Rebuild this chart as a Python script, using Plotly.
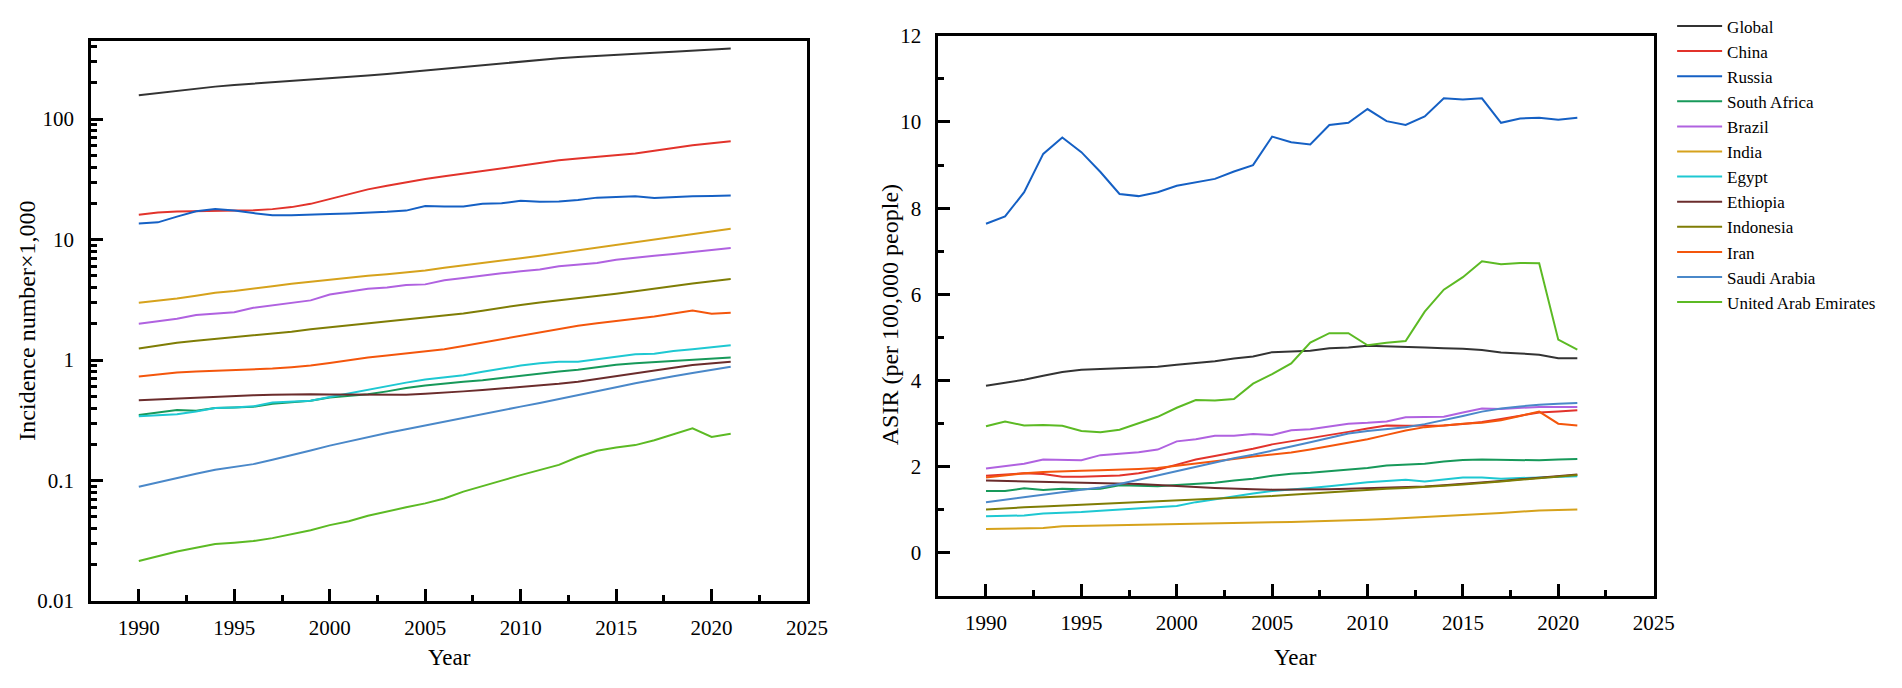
import plotly.graph_objects as go

years = list(range(1990, 2022))

names = ["Global", "China", "Russia", "South Africa", "Brazil", "India", "Egypt",
         "Ethiopia", "Indonesia", "Iran", "Saudi Arabia", "United Arab Emirates"]
colors = ["#333333", "#e2332b", "#1560c4", "#17995a", "#b062e0", "#d6a21c", "#1ec8d2",
          "#6b2c2c", "#7f7d05", "#f4560c", "#4a88c9", "#5cba24"]

# Incidence number x 1,000 (left panel, log scale)
inc_global = [158, 165, 172, 179, 186, 192, 197, 201, 206, 211, 216, 223, 230, 237, 245, 255,
              264, 272, 282, 292, 302, 312, 320, 327, 335, 343, 350, 356, 362, 370, 375, 385]
inc_china = [16.1, 16.8, 17.1, 17.2, 17.2, 17.3, 17.5, 17.9, 18.6, 19.8, 21.7, 23.8, 26.1, 28.0, 30.0, 31.8,
             33.5, 35.2, 37.0, 39.0, 41.0, 43.5, 45.5, 47.2, 48.7, 50.0, 51.8, 54.5, 57.5, 60.8, 63.0, 65.5]
inc_russia = [13.6, 13.9, 15.5, 17.2, 17.9, 17.4, 16.6, 15.9, 15.9, 16.0, 16.3, 16.5, 16.7, 17.0, 17.4, 19.0,
              18.8, 18.8, 19.8, 20.0, 21.0, 20.6, 20.7, 21.3, 22.3, 22.5, 22.9, 22.1, 22.6, 22.9, 23.0, 23.2]
inc_safrica = [0.35, 0.365, 0.386, 0.38, 0.40, 0.405, 0.41, 0.435, 0.45, 0.46, 0.49, 0.505, 0.52, 0.55, 0.586, 0.615,
               0.64, 0.66, 0.68, 0.71, 0.74, 0.77, 0.805, 0.83, 0.87, 0.916, 0.94, 0.96, 0.985, 1.0, 1.03, 1.05]
inc_brazil = [2.0, 2.1, 2.2, 2.37, 2.43, 2.5, 2.72, 2.85, 3.0, 3.13, 3.5, 3.7, 3.9, 4.0, 4.2, 4.25,
              4.6, 4.8, 5.05, 5.25, 5.45, 5.65, 6.0, 6.2, 6.4, 6.8, 7.1, 7.35, 7.6, 7.9, 8.2, 8.5]
inc_india = [2.99, 3.1, 3.25, 3.42, 3.62, 3.75, 3.9, 4.1, 4.3, 4.48, 4.65, 4.85, 5.0, 5.15, 5.35, 5.55,
             5.85, 6.1, 6.4, 6.65, 7.0, 7.35, 7.75, 8.1, 8.5, 9.0, 9.5, 10.0, 10.5, 11.1, 11.7, 12.3]
inc_egypt = [0.342, 0.348, 0.355, 0.375, 0.40, 0.405, 0.413, 0.445, 0.45, 0.459, 0.494, 0.53, 0.57, 0.611, 0.65, 0.69,
             0.72, 0.75, 0.80, 0.85, 0.90, 0.94, 0.97, 0.97, 1.02, 1.08, 1.12, 1.13, 1.19, 1.23, 1.28, 1.33]
inc_ethiopia = [0.464, 0.472, 0.48, 0.487, 0.495, 0.503, 0.51, 0.515, 0.52, 0.52, 0.518, 0.516, 0.515, 0.515, 0.515, 0.525,
                0.535, 0.55, 0.565, 0.58, 0.597, 0.615, 0.635, 0.662, 0.7, 0.735, 0.772, 0.82, 0.865, 0.91, 0.94, 0.97]
inc_indonesia = [1.25, 1.32, 1.39, 1.45, 1.5, 1.54, 1.59, 1.65, 1.72, 1.8, 1.87, 1.93, 2.0, 2.07, 2.15, 2.23,
                 2.32, 2.44, 2.57, 2.72, 2.87, 3.0, 3.12, 3.25, 3.4, 3.55, 3.72, 3.92, 4.12, 4.33, 4.52, 4.7]
inc_iran = [0.73, 0.76, 0.79, 0.805, 0.815, 0.82, 0.835, 0.85, 0.873, 0.9, 0.944, 1.0, 1.05, 1.09, 1.13, 1.18,
            1.23, 1.31, 1.4, 1.5, 1.6, 1.7, 1.82, 1.93, 2.02, 2.1, 2.19, 2.3, 2.44, 2.58, 2.42, 2.47]
inc_saudi = [0.089, 0.097, 0.105, 0.114, 0.123, 0.13, 0.137, 0.149, 0.162, 0.178, 0.195, 0.212, 0.23, 0.248, 0.267, 0.287,
             0.308, 0.333, 0.36, 0.385, 0.411, 0.44, 0.473, 0.51, 0.55, 0.595, 0.643, 0.69, 0.735, 0.782, 0.83, 0.88]
inc_uae = [0.0215, 0.0237, 0.0258, 0.0277, 0.0297, 0.0305, 0.0315, 0.0333, 0.0357, 0.0387, 0.0427, 0.046, 0.051, 0.0556, 0.06, 0.0647,
           0.071, 0.081, 0.0906, 0.1, 0.111, 0.122, 0.135, 0.157, 0.177, 0.188, 0.197, 0.216, 0.242, 0.271, 0.23, 0.245]

# ASIR per 100,000 people (right panel)
asir_global = [3.88, 3.95, 4.02, 4.11, 4.20, 4.25, 4.27, 4.28, 4.30, 4.32, 4.37, 4.41, 4.45, 4.51, 4.56, 4.66,
               4.67, 4.69, 4.75, 4.77, 4.81, 4.80, 4.78, 4.77, 4.75, 4.74, 4.71, 4.65, 4.63, 4.60, 4.52, 4.52]
asir_china = [1.79, 1.82, 1.85, 1.83, 1.77, 1.77, 1.78, 1.80, 1.85, 1.93, 2.05, 2.17, 2.25, 2.33, 2.42, 2.52,
              2.59, 2.66, 2.74, 2.81, 2.89, 2.96, 2.95, 2.96, 2.96, 2.99, 3.04, 3.11, 3.19, 3.26, 3.28, 3.31]
asir_russia = [7.64, 7.81, 8.37, 9.26, 9.64, 9.30, 8.84, 8.33, 8.28, 8.37, 8.52, 8.60, 8.68, 8.85, 9.00, 9.66,
               9.53, 9.48, 9.93, 9.98, 10.30, 10.02, 9.93, 10.13, 10.55, 10.52, 10.55, 9.98, 10.08, 10.10, 10.05, 10.10]
asir_safrica = [1.44, 1.44, 1.50, 1.46, 1.49, 1.48, 1.49, 1.57, 1.56, 1.55, 1.58, 1.60, 1.63, 1.68, 1.72, 1.79,
                1.84, 1.86, 1.90, 1.93, 1.97, 2.03, 2.05, 2.07, 2.12, 2.16, 2.17, 2.16, 2.16, 2.15, 2.17, 2.18]
asir_brazil = [1.96, 2.02, 2.07, 2.17, 2.16, 2.15, 2.27, 2.31, 2.34, 2.40, 2.59, 2.64, 2.72, 2.72, 2.76, 2.74,
               2.85, 2.87, 2.93, 3.00, 3.02, 3.05, 3.15, 3.16, 3.16, 3.26, 3.35, 3.34, 3.37, 3.39, 3.39, 3.39]
asir_india = [0.558, 0.565, 0.572, 0.58, 0.62, 0.63, 0.64, 0.65, 0.66, 0.67, 0.68, 0.69, 0.695, 0.70, 0.705, 0.714,
              0.72, 0.73, 0.745, 0.755, 0.77, 0.79, 0.81, 0.83, 0.855, 0.88, 0.905, 0.93, 0.96, 0.985, 1.0, 1.01]
asir_egypt = [0.855, 0.86, 0.87, 0.915, 0.93, 0.95, 0.98, 1.01, 1.04, 1.07, 1.09, 1.18, 1.25, 1.32, 1.38, 1.44,
              1.47, 1.51, 1.55, 1.60, 1.64, 1.67, 1.70, 1.66, 1.70, 1.75, 1.75, 1.72, 1.74, 1.75, 1.77, 1.78]
asir_ethiopia = [1.68, 1.67, 1.66, 1.66, 1.65, 1.64, 1.63, 1.62, 1.60, 1.58, 1.55, 1.53, 1.51, 1.49, 1.48, 1.47,
                 1.47, 1.47, 1.48, 1.49, 1.50, 1.51, 1.52, 1.54, 1.57, 1.60, 1.63, 1.67, 1.71, 1.75, 1.79, 1.82]
asir_indonesia = [1.01, 1.04, 1.06, 1.08, 1.10, 1.12, 1.13, 1.15, 1.17, 1.19, 1.21, 1.23, 1.25, 1.27, 1.30, 1.32,
                  1.35, 1.38, 1.41, 1.44, 1.47, 1.49, 1.51, 1.53, 1.56, 1.59, 1.62, 1.66, 1.70, 1.74, 1.78, 1.81]
asir_iran = [1.75, 1.80, 1.85, 1.88, 1.90, 1.91, 1.92, 1.93, 1.95, 1.97, 2.02, 2.08, 2.13, 2.18, 2.24, 2.29,
             2.33, 2.40, 2.48, 2.56, 2.64, 2.74, 2.84, 2.92, 2.96, 3.00, 3.02, 3.08, 3.18, 3.28, 3.00, 2.96]
asir_saudi = [1.18, 1.24, 1.30, 1.36, 1.42, 1.47, 1.52, 1.60, 1.70, 1.80, 1.90, 2.00, 2.10, 2.20, 2.28, 2.37,
              2.47, 2.57, 2.67, 2.77, 2.83, 2.88, 2.92, 2.99, 3.08, 3.18, 3.28, 3.35, 3.40, 3.44, 3.46, 3.48]
asir_uae = [2.94, 3.05, 2.96, 2.97, 2.95, 2.83, 2.80, 2.86, 3.01, 3.16, 3.37, 3.55, 3.54, 3.57, 3.93, 4.15,
            4.40, 4.88, 5.10, 5.10, 4.82, 4.88, 4.92, 5.60, 6.11, 6.40, 6.77, 6.70, 6.73, 6.72, 4.95, 4.72]

incidence = [inc_global, inc_china, inc_russia, inc_safrica, inc_brazil, inc_india, inc_egypt,
             inc_ethiopia, inc_indonesia, inc_iran, inc_saudi, inc_uae]
asir = [asir_global, asir_china, asir_russia, asir_safrica, asir_brazil, asir_india, asir_egypt,
        asir_ethiopia, asir_indonesia, asir_iran, asir_saudi, asir_uae]

x_ticks = [1990, 1995, 2000, 2005, 2010, 2015, 2020, 2025]
x_minor = [1992.5, 1997.5, 2002.5, 2007.5, 2012.5, 2017.5, 2022.5]
log_ticks = [0.01, 0.1, 1, 10, 100]
log_ticktext = ["0.01", "0.1", "1", "10", "100"]
log_minor = [m * d for d in [0.01, 0.1, 1, 10, 100] for m in range(2, 10)]
asir_ticks = [0, 2, 4, 6, 8, 10, 12]
asir_minor = [1, 3, 5, 7, 9, 11]

FONT = "Liberation Serif"

fig = go.Figure()
for name, col, yv in zip(names, colors, incidence):
    fig.add_trace(go.Scatter(x=years, y=yv, mode="lines", name=name, legendgroup=name,
                             line=dict(color=col, width=2), xaxis="x", yaxis="y", showlegend=False))
for name, col, yv in zip(names, colors, asir):
    fig.add_trace(go.Scatter(x=years, y=yv, mode="lines", name=name, legendgroup=name,
                             line=dict(color=col, width=2), xaxis="x2", yaxis="y2", showlegend=True))

axis_common = dict(showline=True, linecolor="black", linewidth=2.5, mirror=True,
                   ticks="inside", ticklen=12, tickwidth=2.5, tickcolor="black",
                   showgrid=False, zeroline=False,
                   tickfont=dict(family=FONT, size=21, color="black"))

fig.update_layout(
    width=1902, height=688,
    margin=dict(l=0, r=0, t=0, b=0),
    paper_bgcolor="white", plot_bgcolor="white",
    font=dict(family=FONT, color="black"),
    xaxis=dict(domain=[0.04416, 0.42482], anchor="y", range=[1987.5, 2025],
               tickvals=x_ticks, ticklabelstandoff=6,
               minor=dict(tickvals=x_minor, ticks="inside", ticklen=6, tickwidth=2.5, tickcolor="black"),
               **axis_common),
    yaxis=dict(domain=[0.12544, 0.97238], anchor="x", type="log", range=[-2, 2.646],
               tickvals=log_ticks, ticktext=log_ticktext, ticklabelstandoff=10,
               minor=dict(tickvals=log_minor, ticks="inside", ticklen=6, tickwidth=2.5, tickcolor="black"),
               **axis_common),
    xaxis2=dict(domain=[0.49458, 0.87487], anchor="y2", range=[1987.5, 2025],
                tickvals=x_ticks, ticklabelstandoff=6,
                minor=dict(tickvals=x_minor, ticks="inside", ticklen=6, tickwidth=2.5, tickcolor="black"),
                **axis_common),
    yaxis2=dict(domain=[0.13299, 0.98067], anchor="x2", range=[-1, 12],
                tickvals=asir_ticks, ticklabelstandoff=10,
                minor=dict(tickvals=asir_minor, ticks="inside", ticklen=6, tickwidth=2.5, tickcolor="black"),
                **axis_common),
    legend=dict(x=0.8847, xanchor="left", y=1.022, yanchor="top",
                font=dict(family=FONT, size=17, color="black"),
                bgcolor="rgba(0,0,0,0)", borderwidth=0, itemwidth=45,
                tracegroupgap=0),
    annotations=[
        dict(text="Incidence number×1,000", x=0.00999, y=0.5494, xref="paper", yref="paper",
             textangle=-90, showarrow=False, xanchor="center", yanchor="middle",
             font=dict(family=FONT, size=24, color="black")),
        dict(text="ASIR (per 100,000 people)", x=0.46898, y=0.5581, xref="paper", yref="paper",
             textangle=-90, showarrow=False, xanchor="center", yanchor="middle",
             font=dict(family=FONT, size=24, color="black")),
        dict(text="Year", x=0.2345, y=0.0407, xref="paper", yref="paper",
             showarrow=False, xanchor="center", yanchor="middle",
             font=dict(family=FONT, size=23, color="black")),
        dict(text="Year", x=0.6846, y=0.0407, xref="paper", yref="paper",
             showarrow=False, xanchor="center", yanchor="middle",
             font=dict(family=FONT, size=23, color="black")),
    ],
)

fig.write_html("out.html")
